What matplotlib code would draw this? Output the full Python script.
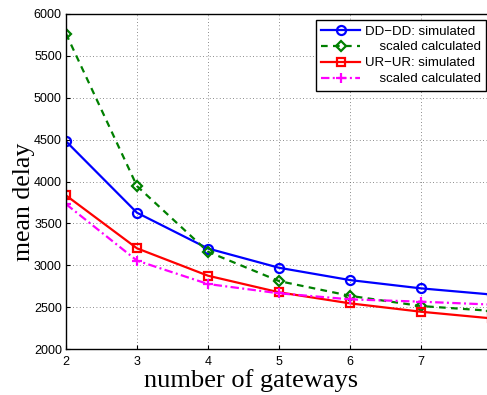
import numpy as np
import matplotlib
matplotlib.use('Agg')
from matplotlib import pyplot as plt

# data
gateways = [2, 3, 4, 5, 6, 7, 8]
dd_sim = [4480, 3627, 3200, 2970, 2823, 2724, 2650]
dd_calc = [5765, 3945, 3161, 2811, 2635, 2513, 2455]
ur_sim = [3834, 3202, 2875, 2677, 2545, 2445, 2365]
ur_calc = [3730, 3055, 2776, 2665, 2593, 2565, 2530]

x_ticks = [2, 3, 4, 5, 6, 7]
y_ticks = list(range(2000, 6001, 500))

plt.rcParams['font.family'] = 'Liberation Sans'

fig = plt.figure(figsize=(4.87, 3.95), dpi=100)
ax = fig.add_axes([66 / 487, 46 / 395, 426 / 487, 335 / 395])

lw = 1.6
ax.plot(gateways, dd_sim, '-', color='blue', lw=lw, marker='o', ms=6.5,
        mfc='none', mew=1.6, label='DD\u2212DD: simulated')
ax.plot(gateways, dd_calc, '--', color='green', lw=lw, marker='D', ms=5.5,
        mfc='none', mew=1.6, label='    scaled calculated', dashes=(3, 2.4))
ax.plot(gateways, ur_sim, '-', color='red', lw=lw, marker='s', ms=5.5,
        mfc='none', mew=1.6, label='UR\u2212UR: simulated')
ax.plot(gateways, ur_calc, '-.', color='magenta', lw=lw, marker='+', ms=7.5,
        mew=1.6, label='    scaled calculated', dashes=(3.8, 1.5, 0.9, 1.5))

ax.set_xlim(2, 8)
ax.set_ylim(2000, 6000)
ax.set_xticks(x_ticks)
ax.set_yticks(y_ticks)
ax.tick_params(direction='in', length=3, labelsize=9, pad=3)
ax.tick_params(axis='x', pad=5)
ax.grid(True, linestyle=(0, (1, 3)), color='#666666', linewidth=0.6)
for s in ax.spines.values():
    s.set_linewidth(1.0)

ax.set_xlabel('number of gateways', family='Liberation Serif', fontsize=19)
ax.set_ylabel('mean delay', family='Liberation Serif', fontsize=18.5)
ax.xaxis.set_label_coords((251 - 66) / 426, -0.060)
ax.yaxis.set_label_coords(-0.072, (349 - 202) / 335)

leg = ax.legend(loc='upper right', bbox_to_anchor=(486 / 487, 1 - 20 / 395),
                bbox_transform=fig.transFigure, fontsize=9.5, fancybox=False,
                framealpha=1, edgecolor='black', borderpad=0.4,
                labelspacing=0.28, handlelength=2.9, handletextpad=0.38,
                borderaxespad=0)
leg.get_frame().set_linewidth(1.0)

fig.savefig('out.png', dpi=100)
